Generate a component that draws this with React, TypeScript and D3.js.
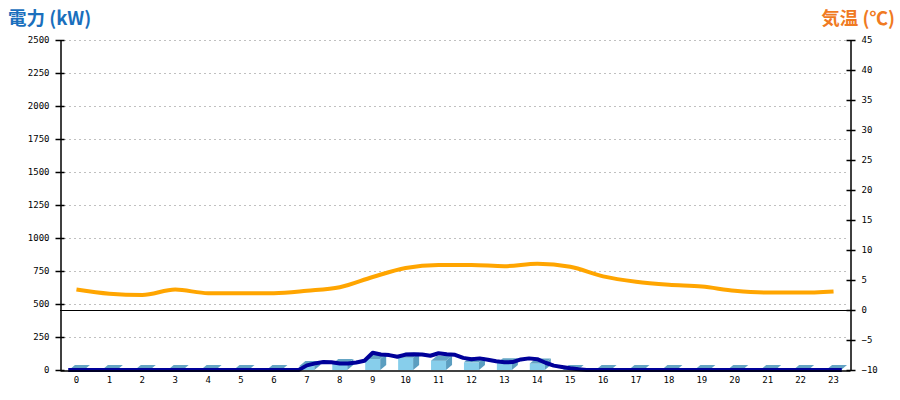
import React, { useEffect, useRef } from 'react';
import * as d3 from 'd3';

// hours on the x axis
const hours: number[] = d3.range(0, 24);

// hourly bars (kW)
const barValues: number[] = [
  0, 0, 0, 0, 0, 0, 0, 30, 45, 83, 92, 71, 58, 52, 50, 0, 0, 0, 0, 0, 0, 0, 0, 0,
];

// hourly temperature (°C)
const tempValues: number[] = [
  3.4, 2.7, 2.5, 3.4, 2.8, 2.8, 2.8, 3.2, 3.8, 5.5, 7.0, 7.5, 7.5, 7.3, 7.7, 7.2, 5.6, 4.7, 4.2, 3.9, 3.2,
  2.9, 2.9, 3.1,
];

// power line, 15 min readings from -0.25h to 23.25h
const powerStart = -0.25;
const powerStep = 0.25;
const powerValues: number[] = [
  0, 0, 0, 0, 0, 0, 0, 0, 0, 0, 0, 0, 0, 0, 0, 0, 0, 0, 0, 0, 0, 0, 0, 0, 0, 0, 0, 0, 0, // -0.25 .. 6.75
  35, 50, 60, 58, 50, 50, 57, 70, // 7.0 .. 8.75
  131, 118, 113, 100, 117, 119, 118, 108, // 9.0 .. 10.75
  127, 120, 115, 92, 82, 88, 78, 66, // 11.0 .. 12.75
  58, 60, 80, 88, 82, 55, 33, 23, // 13.0 .. 14.75
  13, 5, // 15.0 .. 15.25
  0, 0, 0, 0, 0, 0, 0, 0, 0, 0, 0, 0, 0, 0, 0, 0, 0, 0, 0, 0, 0, 0, 0, 0, 0, 0, 0, 0, 0, 0, 0, 0, // 15.5 .. 23.25
];

const leftTicks: number[] = [0, 250, 500, 750, 1000, 1250, 1500, 1750, 2000, 2250, 2500];
const rightTicks: number[] = [-10, -5, 0, 5, 10, 15, 20, 25, 30, 35, 40, 45];

const Chart: React.FC = () => {
  const svgRef = useRef<SVGSVGElement | null>(null);

  useEffect(() => {
    if (!svgRef.current) return;
    const width = 900;
    const height = 400;
    const margin = { top: 40, right: 50, bottom: 30, left: 60 };
    const tickFont = '"DejaVu Sans Mono", monospace';

    const svg = d3.select(svgRef.current);
    svg.selectAll('*').remove();

    const xBand = d3
      .scaleBand<number>()
      .domain(hours)
      .range([margin.left, width - margin.right])
      .padding(0);

    // continuous hour scale, hour h sits at band centre
    const xTime = d3
      .scaleLinear()
      .domain([-0.5, 23.5])
      .range([margin.left, width - margin.right]);

    const yPow = d3
      .scaleLinear()
      .domain([0, 2500])
      .range([height - margin.bottom, margin.top]);

    const yTemp = d3
      .scaleLinear()
      .domain([-10, 45])
      .range([height - margin.bottom, margin.top]);

    // grid
    svg
      .append('g')
      .selectAll('line')
      .data(leftTicks.filter((d) => d > 0))
      .join('line')
      .attr('x1', margin.left + 4)
      .attr('x2', width - margin.right - 2)
      .attr('y1', (d) => yPow(d) + 0.5)
      .attr('y2', (d) => yPow(d) + 0.5)
      .attr('stroke', '#c0c0c0')
      .attr('stroke-dasharray', '2,3');

    // temp zero line
    svg
      .append('line')
      .attr('x1', margin.left)
      .attr('x2', width - margin.right)
      .attr('y1', yTemp(0) + 0.5)
      .attr('y2', yTemp(0) + 0.5)
      .attr('stroke', '#000');

    // 3d bars
    const bw = 15;
    const dx = 6;
    const dy = 5;
    const bars = svg.append('g');
    hours.forEach((h, i) => {
      const cx = xBand(h)! + xBand.bandwidth() / 2;
      const x0 = cx - bw / 2;
      const y0 = yPow(0);
      const y1 = yPow(barValues[i]);
      if (y0 - y1 > 0) {
        bars
          .append('rect')
          .attr('x', x0)
          .attr('y', y1)
          .attr('width', bw)
          .attr('height', y0 - y1)
          .attr('fill', '#87ceeb');
        bars
          .append('path')
          .attr('d', `M${x0 + bw},${y1}L${x0 + bw + dx},${y1 - dy}L${x0 + bw + dx},${y0 - dy}L${x0 + bw},${y0}Z`)
          .attr('fill', '#5b9ec0');
      }
      bars
        .append('path')
        .attr('d', `M${x0},${y1}L${x0 + bw},${y1}L${x0 + bw + dx},${y1 - dy}L${x0 + dx},${y1 - dy}Z`)
        .attr('fill', '#64a4c4');
    });

    // temperature line
    const tempLine = d3
      .line<number>()
      .x((_, i) => xTime(hours[i]))
      .y((d) => yTemp(d))
      .curve(d3.curveMonotoneX);
    svg
      .append('path')
      .datum(tempValues)
      .attr('fill', 'none')
      .attr('stroke', '#ffa500')
      .attr('stroke-width', 4)
      .attr('d', tempLine);

    // power line
    const powLine = d3
      .line<number>()
      .x((_, i) => xTime(powerStart + i * powerStep))
      .y((d) => yPow(d));
    svg
      .append('path')
      .datum(powerValues)
      .attr('fill', 'none')
      .attr('stroke', '#000099')
      .attr('stroke-width', 4)
      .attr('stroke-linejoin', 'round')
      .attr('d', powLine);

    // left axis
    const left = svg
      .append('g')
      .attr('transform', `translate(${margin.left + 0.5},0)`)
      .call(
        d3
          .axisLeft(yPow)
          .tickValues(leftTicks)
          .tickFormat(d3.format('d'))
          .tickSize(5)
          .tickPadding(6)
          .tickSizeOuter(0),
      );
    left.select('.domain').attr('stroke', '#000').attr('stroke-width', 1.5);
    left.selectAll('.tick line').attr('x2', -5).attr('x1', 4).attr('stroke-width', 1.5);
    left
      .selectAll('.tick text')
      .attr('font-family', tickFont)
      .attr('font-size', 9)
      .attr('fill', '#000');

    // right axis
    const right = svg
      .append('g')
      .attr('transform', `translate(${width - margin.right + 0.5},0)`)
      .call(
        d3
          .axisRight(yTemp)
          .tickValues(rightTicks)
          .tickFormat(d3.format('d'))
          .tickSize(5)
          .tickPadding(6)
          .tickSizeOuter(0),
      );
    right.select('.domain').attr('stroke', '#000').attr('stroke-width', 1.5);
    right.selectAll('.tick line').attr('x1', -4).attr('x2', 5).attr('stroke-width', 1.5);
    right
      .selectAll('.tick text')
      .attr('font-family', tickFont)
      .attr('font-size', 9)
      .attr('fill', '#000');

    // bottom axis
    const bottom = svg
      .append('g')
      .attr('transform', `translate(0,${height - margin.bottom + 0.5})`)
      .call(d3.axisBottom(xBand).tickSize(0).tickPadding(6).tickSizeOuter(0));
    bottom.select('.domain').attr('stroke', '#000').attr('stroke-width', 1.5);
    bottom
      .selectAll('.tick text')
      .attr('font-family', tickFont)
      .attr('font-size', 9)
      .attr('fill', '#000');

    // titles
    svg
      .append('text')
      .attr('x', 8)
      .attr('y', 25)
      .attr('font-family', '"Noto Sans CJK JP", "Noto Sans", sans-serif')
      .attr('font-weight', 'bold')
      .attr('font-size', 18.5)
      .attr('fill', '#1a6fbd')
      .text('電力 (kW)');
    svg
      .append('text')
      .attr('x', 895)
      .attr('y', 25)
      .attr('text-anchor', 'end')
      .attr('font-family', '"Noto Sans CJK JP", "Noto Sans", sans-serif')
      .attr('font-weight', 'bold')
      .attr('font-size', 18.5)
      .attr('fill', '#f07a22')
      .text('気温 (℃)');
  }, []);

  return (
    <svg
      ref={svgRef}
      width={900}
      height={400}
      style={{ position: 'absolute', left: 0, top: 0, background: '#fff' }}
    />
  );
};

export default function App() {
  return <Chart />;
}
